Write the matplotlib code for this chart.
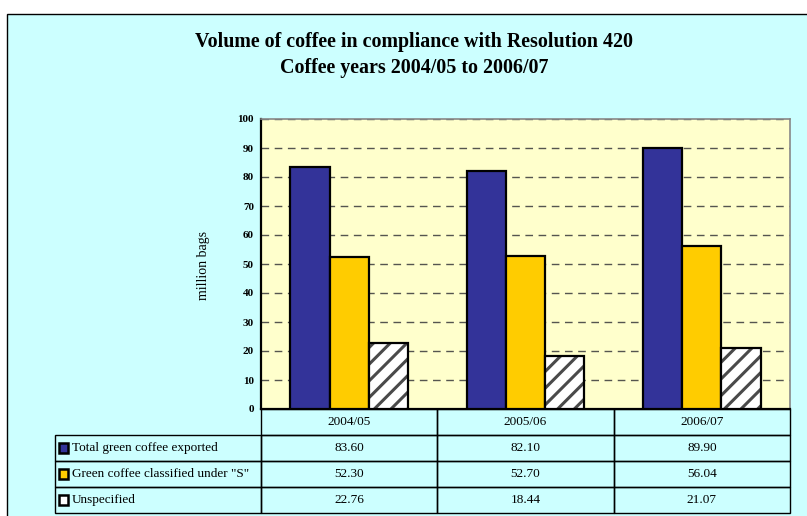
import numpy as np
import matplotlib
matplotlib.use('Agg')
import matplotlib.pyplot as plt
from matplotlib.patches import Rectangle

# data from the chart
years = ['2004/05', '2005/06', '2006/07']
series_names = ['Total green coffee exported', 'Green coffee classified under "S"', 'Unspecified']
total_exported = [83.60, 82.10, 89.90]
classified_s = [52.30, 52.70, 56.04]
unspecified = [22.76, 18.44, 21.07]

plt.rcParams['font.family'] = ['Liberation Serif', 'DejaVu Serif']
plt.rcParams['hatch.linewidth'] = 2.2

W, H = 807, 516
fig = plt.figure(figsize=(W / 100, H / 100), dpi=100, facecolor='white')

# cyan chart area with black frame
fig.add_artist(Rectangle((7 / W, -0.1), 1.1, (H - 14) / H + 0.1, transform=fig.transFigure,
                         facecolor='#CCFFFF', edgecolor='black', lw=1, zorder=0))

# plot area (pixels: x 261..790, y 119..409)
ax = fig.add_axes([261 / W, (H - 409) / H, 529 / W, 290 / H])
ax.set_facecolor('#FFFFCC')

x = np.arange(len(years))
bw = 0.222
values = [total_exported, classified_s, unspecified]
colors = ['#333399', '#FFCC00', 'white']
for i, (vals, c) in enumerate(zip(values, colors)):
    pos = x + (i - 1) * bw
    if i == 2:
        # gray stripes first, black outline on top
        ax.bar(pos, vals, bw, color='white', edgecolor='#4a4a4a', lw=0, hatch='//', zorder=3)
        ax.bar(pos, vals, bw, fill=False, edgecolor='black', lw=1.6, zorder=4)
    else:
        ax.bar(pos, vals, bw, color=c, edgecolor='black', lw=1.6, zorder=3)

ax.set_xlim(-0.5, 2.5)
ax.set_ylim(0, 100)
ax.set_yticks(range(0, 101, 10))
ax.set_xticks([])
ax.tick_params(axis='y', length=0, pad=5, labelsize=8)
for lab in ax.get_yticklabels():
    lab.set_fontweight('bold')
ax.set_axisbelow(True)
ax.yaxis.grid(True, color='#55554f', lw=1, linestyle=(0, (5.5, 4)))
for s in ['top', 'right']:
    ax.spines[s].set_color('#888888')
    ax.spines[s].set_linewidth(1.2)
for s in ['left', 'bottom']:
    ax.spines[s].set_color('black')
    ax.spines[s].set_linewidth(1.6)

# titles
fig.text(414 / W, 1 - 42 / H, 'Volume of coffee in compliance with Resolution 420',
         ha='center', va='center', fontsize=14.4, fontweight='bold')
fig.text(414 / W, 1 - 68 / H, 'Coffee years 2004/05 to 2006/07',
         ha='center', va='center', fontsize=14.4, fontweight='bold')
fig.text(203 / W, 1 - 265 / H, 'million bags', rotation=90, ha='center', va='center', fontsize=10)

# data table under the plot (pixels: x 55..790, y 409..513)
tax = fig.add_axes([55 / W, (H - 513) / H, 735 / W, 104 / H])
col_px = 529 / 3
lab_w = 206 / col_px
tax.set_xlim(-lab_w, 3)
tax.set_ylim(0, 4)
tax.axis('off')
fs = 9.5
for j, yr in enumerate(years):
    tax.add_patch(Rectangle((j, 3), 1, 1, fill=False, edgecolor='black', lw=1, clip_on=False))
    tax.text(j + 0.5, 3.5, yr, ha='center', va='center', fontsize=fs)
for i, (name, vals, c) in enumerate(zip(series_names, values, colors)):
    y0 = 2 - i
    tax.add_patch(Rectangle((-lab_w, y0), lab_w, 1, fill=False, edgecolor='black', lw=1, clip_on=False))
    # legend swatch
    tax.add_patch(Rectangle((-lab_w + 4 / col_px, y0 + 0.32), 9 / col_px, 0.36,
                            facecolor=c, edgecolor='black', lw=1.8, clip_on=False))
    tax.text(-lab_w + 17 / col_px, y0 + 0.5, name, ha='left', va='center', fontsize=fs)
    for j, v in enumerate(vals):
        tax.add_patch(Rectangle((j, y0), 1, 1, fill=False, edgecolor='black', lw=1, clip_on=False))
        tax.text(j + 0.5, y0 + 0.5, '%.2f' % v, ha='center', va='center', fontsize=fs)

fig.savefig('out.png', dpi=100, facecolor='white')
